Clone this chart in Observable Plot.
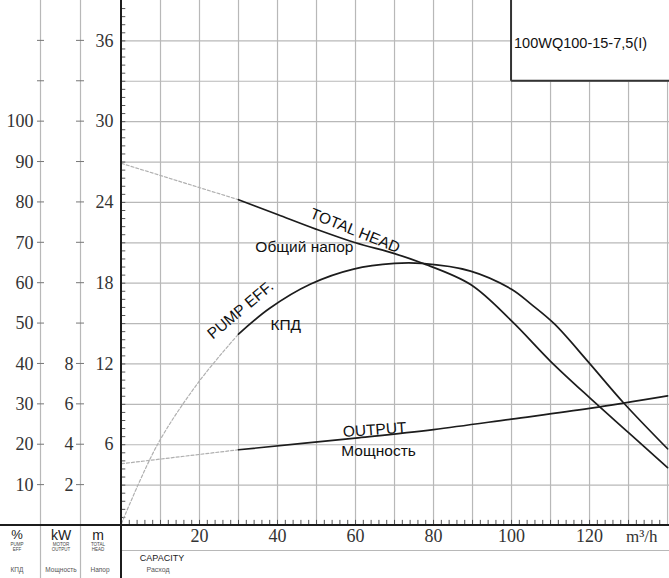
<!DOCTYPE html>
<html><head><meta charset="utf-8">
<script src="https://cdn.jsdelivr.net/npm/d3@7"></script>
<script src="https://cdn.jsdelivr.net/npm/@observablehq/plot@0.6"></script>
<style>body{margin:0;background:#fff} svg{display:block}</style>
</head><body><div id="chart"></div>
<script>
// ---- data ----
const headSolidQ = [30, 40, 50, 60, 70, 77, 89.5, 100, 110, 120, 130, 140];
const headSolidM = [24.2, 23.1, 22.0, 21.0, 20.2, 19.5, 17.9, 15.2, 12.2, 9.5, 6.9, 4.3];
const headDashQ = [0, 30];
const headDashM = [26.9, 24.2];

const effSolidQ = [30, 38, 48.5, 59.5, 70, 77, 89.5, 100, 105, 111, 119.5, 128.7, 140];
const effSolidPct = [47.4, 53.8, 59.8, 63.5, 64.9, 64.9, 63, 58.5, 54.8, 49.9, 40.7, 30.4, 19];
const effDashQ = [0, 9.2, 20, 30];
const effDashPct = [0.5, 20, 35.8, 47.4];

const outSolidQ = [30, 60, 80, 100, 120, 140];
const outSolidKW = [3.75, 4.33, 4.75, 5.27, 5.8, 6.42];
const outDashQ = [0, 30];
const outDashKW = [3.06, 3.75];

const xTicks = [20, 40, 60, 80, 100, 120];
const mTicks = [6, 12, 18, 24, 30, 36];
const pctTicks = [10, 20, 30, 40, 50, 60, 70, 80, 90, 100];
const kwTicks = [2, 4, 6, 8];
const gridQ = [10, 20, 30, 40, 50, 60, 70, 80, 90, 100, 110, 120, 130, 140];
const gridM = [3, 6, 9, 12, 15, 18, 21, 24, 27, 30, 33, 36];

const labelText = ["TOTAL HEAD", "Общий напор", "PUMP EFF.", "КПД", "OUTPUT", "Мощность"];
const labelQ = [59.9, 46.9, 30.5, 42.1, 64.9, 65.9];
const labelM = [21.9, 20.7, 16.0, 14.9, 7.1, 5.5];
const labelRot = [22, 0, -40, 0, -4, 0];

const model = "100WQ100-15-7,5(I)";

// scale links between the three left axes
const M_PER_PCT = 0.3;   // 100 % <-> 30 m
const M_PER_KW = 1.5;    // 8 kW <-> 12 m

const tbl = (qs, vs, k = 1) => qs.map((q, i) => ({q, v: vs[i] * k}));
const labels = labelText.map((t, i) => ({t, q: labelQ[i], v: labelM[i], r: labelRot[i]}));

const serif = "Liberation Serif";
const sans = "Liberation Sans";
const dark = "#1c1c1c";
const faint = "#b0b0b0";
const gridC = "#b8b8b8";

const yMinor = d3.range(0.6, 39, 0.6);
const xMinor = d3.range(2, 140, 2);

const plot = Plot.plot({
  width: 669, height: 578,
  marginLeft: 121, marginRight: 0, marginTop: 0, marginBottom: 53,
  x: {domain: [0, 140.5], axis: null},
  y: {domain: [0, 39], axis: null},
  style: {background: "white", overflow: "visible"},
  marks: [
    Plot.ruleX(gridQ, {x: d => d, stroke: gridC, strokeWidth: 1.2}),
    Plot.ruleY(gridM, {y: d => d, stroke: gridC, strokeWidth: 1.2}),
    Plot.ruleY(yMinor, {y: d => d, x1: 0, x2: 1.1, stroke: "#555", strokeWidth: 1}),
    Plot.ruleX(xMinor, {x: d => d, y1: 0, y2: 0.38, stroke: "#555", strokeWidth: 1}),
    // extrapolated (dotted) parts
    Plot.line(tbl(headDashQ, headDashM), {x: "q", y: "v", stroke: faint, strokeWidth: 1.2, strokeDasharray: "3,2"}),
    Plot.line(tbl(effDashQ, effDashPct, M_PER_PCT), {x: "q", y: "v", stroke: faint, strokeWidth: 1.2, strokeDasharray: "3,2", curve: "catmull-rom"}),
    Plot.line(tbl(outDashQ, outDashKW, M_PER_KW), {x: "q", y: "v", stroke: faint, strokeWidth: 1.2, strokeDasharray: "3,2"}),
    // working range
    Plot.line(tbl(headSolidQ, headSolidM), {x: "q", y: "v", stroke: dark, strokeWidth: 1.7, curve: "catmull-rom"}),
    Plot.line(tbl(effSolidQ, effSolidPct, M_PER_PCT), {x: "q", y: "v", stroke: dark, strokeWidth: 1.7, curve: "catmull-rom"}),
    Plot.line(tbl(outSolidQ, outSolidKW, M_PER_KW), {x: "q", y: "v", stroke: dark, strokeWidth: 1.7, curve: "catmull-rom"}),
    // curve labels
    Plot.text(labels, {x: "q", y: "v", text: "t", rotate: "r", fontFamily: sans, fontSize: 15.5, fill: "#111", textAnchor: "middle", lineAnchor: "middle"}),
    // axis tick labels
    Plot.text(mTicks, {y: d => d, text: d => String(d), frameAnchor: "left", textAnchor: "end", dx: -8, fontFamily: serif, fontSize: 18, fill: "#333"}),
    Plot.text(pctTicks, {y: d => d * M_PER_PCT, text: d => String(d), frameAnchor: "left", textAnchor: "end", dx: -88, fontFamily: serif, fontSize: 18, fill: "#333"}),
    Plot.text(kwTicks, {y: d => d * M_PER_KW, text: d => String(d), frameAnchor: "left", textAnchor: "end", dx: -48, fontFamily: serif, fontSize: 18, fill: "#333"}),
    Plot.text(xTicks, {x: d => d, text: d => String(d), frameAnchor: "bottom", dy: 11, lineAnchor: "middle", fontFamily: serif, fontSize: 18, fill: "#333"}),
    Plot.text(["m³/h"], {frameAnchor: "bottom-right", dx: -12, dy: 11, textAnchor: "end", lineAnchor: "middle", fontFamily: serif, fontSize: 17, fill: "#333"})
  ]
});
document.getElementById("chart").appendChild(plot);

// ---- table-like frame decorations ----
const svg = d3.select(plot);
const X = v => plot.scale("x").apply(v);
const Y = v => plot.scale("y").apply(v);
const g = svg.append("g");
const L = (x1, y1, x2, y2, s, w) => g.append("line").attr("x1", x1).attr("y1", y1).attr("x2", x2).attr("y2", y2).attr("stroke", s).attr("stroke-width", w);
const T = (x, y, t, size, fill, anchor = "middle", fam = sans) => g.append("text").attr("x", x).attr("y", y).attr("text-anchor", anchor).attr("dominant-baseline", "middle").attr("font-family", fam).attr("font-size", size).attr("fill", fill).text(t);

const y0 = Y(0), xL = X(0);
L(40.5, 0, 40.5, 578, gridC, 1.2);
L(80.5, 0, 80.5, 578, gridC, 1.2);
gridM.forEach(m => { L(37, Y(m), 44, Y(m), "#777", 1); L(76, Y(m), 84, Y(m), "#777", 1); });
L(xL, y0 + 25.5, 669, y0 + 25.5, gridC, 1.2);
L(0, y0, 669, y0, dark, 2);
L(xL, 0, xL, 578, dark, 2);

T(17, 536, "%", 13, "#222");
T(61, 536, "kW", 14, "#222");
T(98, 536, "m", 14, "#222");
T(17, 545, "PUMP", 4.5, "#444"); T(17, 550, "EFF", 4.5, "#444");
T(61, 545, "MOTOR", 4.5, "#444"); T(61, 550, "OUTPUT", 4.5, "#444");
T(98, 545, "TOTAL", 4.5, "#444"); T(98, 550, "HEAD", 4.5, "#444");
T(17, 570, "КПД", 6.5, "#555");
T(61, 570, "Мощность", 6.5, "#555");
T(100, 570, "Напор", 6.5, "#555");
T(162, 559, "CAPACITY", 9, "#222");
T(158, 570, "Расход", 7, "#555");

// model box (top right)
const bx = X(100), by = Y(33);
g.append("rect").attr("x", bx).attr("y", 0).attr("width", 669 - bx).attr("height", by).attr("fill", "white");
L(bx, 0, bx, by, "#333", 2);
L(bx, by, 669, by, "#333", 2);
T(bx + 3, 44, model, 14.5, "#111", "start");
</script>
</body></html>
